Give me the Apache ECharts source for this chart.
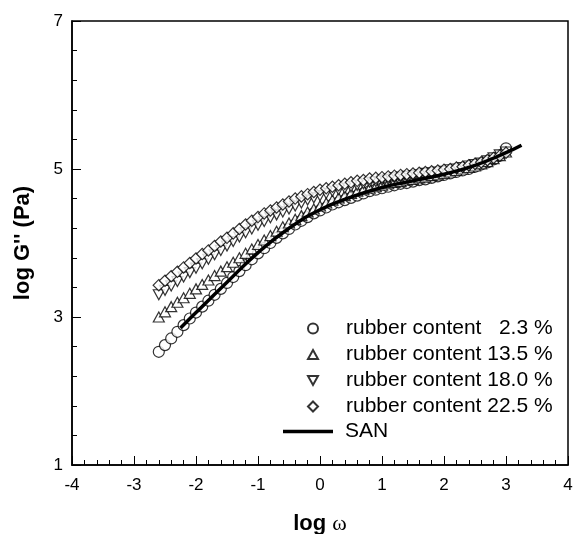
<!DOCTYPE html>
<html>
<head>
<meta charset="utf-8">
<script src="https://cdn.jsdelivr.net/npm/echarts@6/dist/echarts.min.js"></script>
<style>
  html, body { margin: 0; padding: 0; background: #fff; }
  #chart { width: 576px; height: 534px; }
</style>
</head>
<body>
<div id="chart"></div>
<script>
// log(omega) values shared by the four blends
const logW = [-2.6, -2.5, -2.4, -2.3, -2.2, -2.1, -2.0, -1.9, -1.8, -1.7, -1.6, -1.5, -1.4,
  -1.3, -1.2, -1.1, -1.0, -0.9, -0.8, -0.7, -0.6, -0.5, -0.4, -0.3, -0.2, -0.1,
  0.0, 0.1, 0.2, 0.3, 0.4, 0.5, 0.6, 0.7, 0.8, 0.9, 1.0, 1.1, 1.2, 1.3, 1.4, 1.5,
  1.6, 1.7, 1.8, 1.9, 2.0, 2.1, 2.2, 2.3, 2.4, 2.5, 2.6, 2.7, 2.8, 2.9, 3.0]

// log G'' per rubber content
const rubber23 = [2.53, 2.62, 2.71, 2.80, 2.89, 2.98, 3.06, 3.14, 3.22, 3.30, 3.38, 3.46, 3.54,
  3.62, 3.70, 3.78, 3.86, 3.93, 4.00, 4.07, 4.13, 4.19, 4.25, 4.30, 4.35, 4.40,
  4.44, 4.48, 4.52, 4.55, 4.58, 4.61, 4.64, 4.67, 4.70, 4.72, 4.74, 4.76, 4.78, 4.80, 4.81, 4.83,
  4.85, 4.86, 4.88, 4.90, 4.92, 4.94, 4.96, 4.98, 5.00, 5.03, 5.06, 5.09, 5.13, 5.18, 5.28]
const rubber135 = [3.00, 3.07, 3.14, 3.20, 3.26, 3.32, 3.38, 3.44, 3.50, 3.56, 3.62, 3.68, 3.74,
  3.80, 3.86, 3.92, 3.98, 4.04, 4.10, 4.16, 4.22, 4.27, 4.32, 4.37, 4.42, 4.46,
  4.50, 4.54, 4.58, 4.61, 4.64, 4.67, 4.70, 4.72, 4.74, 4.76, 4.78, 4.80, 4.82, 4.83, 4.85, 4.86,
  4.88, 4.89, 4.91, 4.92, 4.94, 4.96, 4.98, 5.00, 5.02, 5.04, 5.07, 5.10, 5.14, 5.18, 5.23]
const rubber180 = [3.30, 3.36, 3.42, 3.48, 3.54, 3.60, 3.66, 3.72, 3.78, 3.84, 3.90, 3.96, 4.02,
  4.08, 4.14, 4.19, 4.24, 4.29, 4.34, 4.38, 4.42, 4.46, 4.50, 4.54, 4.58, 4.61,
  4.64, 4.67, 4.70, 4.72, 4.74, 4.76, 4.78, 4.80, 4.82, 4.83, 4.85, 4.86, 4.88, 4.89, 4.90, 4.91,
  4.92, 4.94, 4.95, 4.96, 4.97, 4.99, 5.00, 5.02, 5.04, 5.06, 5.08, 5.11, 5.15, 5.19, 5.23]
const rubber225 = [3.43, 3.49, 3.55, 3.61, 3.67, 3.73, 3.79, 3.85, 3.90, 3.96, 4.02, 4.07, 4.13,
  4.19, 4.25, 4.30, 4.35, 4.40, 4.44, 4.48, 4.52, 4.56, 4.60, 4.63, 4.66, 4.69,
  4.72, 4.74, 4.76, 4.78, 4.80, 4.82, 4.84, 4.85, 4.87, 4.88, 4.89, 4.90, 4.91, 4.92, 4.93, 4.94,
  4.95, 4.96, 4.97, 4.98, 4.99, 5.00, 5.02, 5.03, 5.05, 5.07, 5.09, 5.12, 5.15, 5.18, 5.22]

// SAN matrix curve
const sanX = [-2.25, -2.0, -1.5, -1.0, -0.5, 0.0, 0.5, 1.0, 1.5, 2.0, 2.5, 3.0, 3.25]
const sanY = [2.85, 3.06, 3.47, 3.87, 4.20, 4.45, 4.62, 4.75, 4.84, 4.93, 5.05, 5.22, 5.32]

const names = ['rubber content   2.3 %', 'rubber content 13.5 %', 'rubber content 18.0 %', 'rubber content 22.5 %']
const sanName = 'SAN'

const pairs = (xs, ys) => xs.map((x, i) => [x, ys[i]])

const markerStyle = { color: '#fff', borderColor: '#000', borderWidth: 1.2 }

function scatter(name, ys, symbol, size, rotate) {
  return {
    name,
    type: 'scatter',
    data: pairs(logW, ys),
    symbol,
    symbolSize: size,
    symbolRotate: rotate || 0,
    itemStyle: markerStyle,
    emphasis: { disabled: true }
  }
}

const chart = echarts.init(document.getElementById('chart'))

const font = 'Liberation Sans, Arial'
const tickFont = { fontFamily: font, fontSize: 17, color: '#000' }
const legendText = { fontFamily: font, fontSize: 21, color: '#000' }

chart.setOption({
  backgroundColor: '#fff',
  animation: false,
  grid: {
    left: 72, right: 8, top: 21, bottom: 69,
    outerBoundsMode: 'none',
    show: true, borderColor: '#000', borderWidth: 1.5, backgroundColor: 'transparent'
  },
  xAxis: {
    type: 'value',
    min: -4, max: 4, interval: 1,
    name: '{b|log }{w|ω}',
    nameLocation: 'middle',
    nameGap: 48,
    nameTextStyle: {
      rich: {
        b: { fontFamily: font, fontWeight: 'bold', fontSize: 22, color: '#000' },
        w: { fontFamily: 'Liberation Serif, serif', fontSize: 22, color: '#000' }
      }
    },
    axisLine: { onZero: false, lineStyle: { color: '#000', width: 1.5 } },
    axisTick: { inside: true, length: 9, lineStyle: { color: '#000', width: 1 } },
    minorTick: { show: true, splitNumber: 5, length: 5, lineStyle: { color: '#000', width: 1 } },
    axisLabel: { margin: 12, ...tickFont },
    splitLine: { show: false }
  },
  yAxis: {
    type: 'value',
    min: 1, max: 7, interval: 2,
    name: "log G'' (Pa)",
    nameLocation: 'middle',
    nameGap: 38,
    nameTextStyle: { fontFamily: font, fontWeight: 'bold', fontSize: 22, color: '#000' },
    axisLine: { onZero: false, lineStyle: { color: '#000', width: 1.5 } },
    axisTick: { inside: true, length: 9, lineStyle: { color: '#000', width: 1 } },
    minorTick: { show: true, splitNumber: 5, length: 5, lineStyle: { color: '#000', width: 1 } },
    axisLabel: { margin: 9, ...tickFont },
    splitLine: { show: false }
  },
  legend: [
    {
      data: [
        { name: names[0], icon: 'circle' },
        { name: names[1], icon: 'path://M5,0L10,9L0,9Z' },
        { name: names[2], icon: 'path://M0,0L10,0L5,9Z' },
        { name: names[3], icon: 'path://M5,0L10,5L5,10L0,5Z' }
      ],
      orient: 'vertical',
      left: 307, top: 318,
      padding: 0,
      itemWidth: 10, itemHeight: 10, itemGap: 5,
      symbolKeepAspect: true,
      symbolRotate: 0,
      textStyle: { ...legendText, padding: [0, 0, 0, 23] },
      selectedMode: false
    },
    {
      data: [{ name: sanName, icon: 'rect' }],
      orient: 'vertical',
      left: 283, top: 421,
      padding: 0,
      itemWidth: 50, itemHeight: 3.5,
      itemStyle: { color: '#000', borderWidth: 0 },
      textStyle: { ...legendText, padding: [0, 0, 0, 7] },
      selectedMode: false
    }
  ],
  series: [
    scatter(names[0], rubber23, 'circle', 11),
    scatter(names[1], rubber135, 'triangle', [11, 10]),
    scatter(names[2], rubber180, 'triangle', [11, 10], 180),
    scatter(names[3], rubber225, 'rect', 8, 45),
    {
      name: sanName,
      type: 'line',
      data: pairs(sanX, sanY),
      smooth: true,
      symbol: 'none',
      lineStyle: { color: '#000', width: 3.5 },
      itemStyle: { color: '#000' },
      emphasis: { disabled: true },
      z: 5
    }
  ]
})
</script>
</body>
</html>
